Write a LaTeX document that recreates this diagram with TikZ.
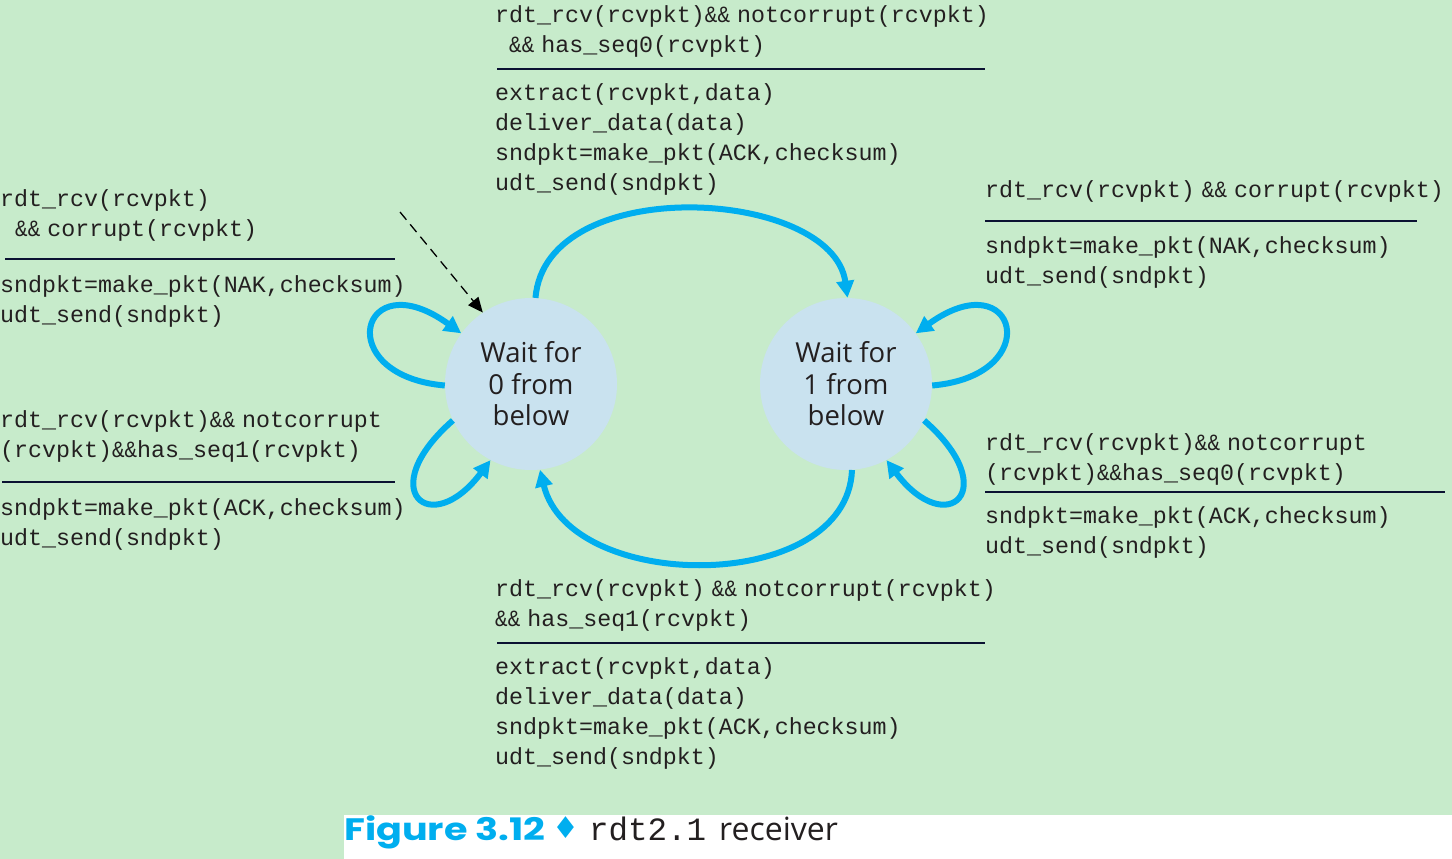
\documentclass[tikz,border=0pt]{standalone}
\usepackage{fontspec}
\usepackage{graphicx}
\usetikzlibrary{arrows.meta}
\newfontfamily\codefont{Liberation Mono}
\newfontfamily\statefont{Open Sans}
\newfontfamily\capfont{Poppins}
\newfontfamily\symbfont{DejaVu Sans}
\definecolor{bggreen}{HTML}{C7EBCB}
\definecolor{statefill}{HTML}{C9E2EF}
\definecolor{flowblue}{HTML}{00AEEF}
\definecolor{ink}{HTML}{231F20}
\definecolor{rulecol}{HTML}{0B1232}
\newcommand{\myand}{\scalebox{0.9}[1]{\&\&}}
\newcommand{\mygap}{\hspace{7pt}}
\tikzset{
  code/.style={anchor=base west, inner sep=0pt, text=ink, font=\codefont\fontsize{23.3}{30}\selectfont},
  state/.style={circle, fill=statefill, minimum size=172pt, inner sep=0pt, align=center, text=ink,
    font=\statefont\fontsize{27.5}{31.5}\selectfont},
  flow/.style={draw=flowblue, line width=6pt, -{Triangle[length=17pt,width=17pt]}},
  initarrow/.style={draw=black, line width=1.3pt, dash pattern=on 10pt off 6pt, -{Triangle[length=15pt,width=13pt]}},
  sep/.style={draw=rulecol, line width=1.5pt}
}
\begin{document}
\begin{tikzpicture}[x=1pt,y=-1pt]
\useasboundingbox (0,0) rectangle (1452,859);
\fill[bggreen] (0,0) rectangle (1452,859);
\fill[white] (344,815) rectangle (1452,859);

% states
\node[state] (c1) at (531,384) {Wait for\\0 from\\below};
\node[state] (c2) at (846,384) {Wait for\\1 from\\below};

% transitions
\draw[flow] (c1.87) .. controls +(10,-126) and +(-15,-110) .. (c2.89);
\draw[flow] (c2.274) .. controls +(-5,125) and +(30,124) .. (c1.276);
\draw[flow] (c1.181) .. controls +(-115,-10) and +(-101,-73) .. (c1.144);
\draw[flow] (c1.205) .. controls +(-80,70) and +(-60,80) .. (c1.242);
\draw[flow] (c2.-1) .. controls +(115,-10) and +(101,-73) .. (c2.36);
\draw[flow] (c2.335) .. controls +(80,70) and +(60,80) .. (c2.298);

\coordinate (init) at (400,212);
\draw[initarrow] (init) -- (c1.124);

% top label
\node[code] (t1) at (495,23) {rdt\_rcv(rcvpkt)\myand\mygap notcorrupt(rcvpkt)};
\node[code] (t2) at (509,53) {\myand\mygap has\_seq0(rcvpkt)};
\coordinate (t3l) at (497,69); \coordinate (t3r) at (985,69);
\draw[sep] (t3l) -- (t3r);
\node[code] (t3) at (495,100) {extract(rcvpkt,data)};
\node[code] (t4) at (495,130) {deliver\_data(data)};
\node[code] (t5) at (495,160) {sndpkt=make\_pkt(ACK,checksum)};
\node[code] (t6) at (495,190) {udt\_send(sndpkt)};

% left top label
\node[code] (l1) at (0,206) {rdt\_rcv(rcvpkt)};
\node[code] (l2) at (15,236) {\myand\mygap corrupt(rcvpkt)};
\coordinate (l3l) at (5,259); \coordinate (l3r) at (395,259);
\draw[sep] (l3l) -- (l3r);
\node[code] (l3) at (0,292) {sndpkt=make\_pkt(NAK,checksum)};
\node[code] (l4) at (0,322) {udt\_send(sndpkt)};

% left bottom label
\node[code] (m1) at (0,427) {rdt\_rcv(rcvpkt)\myand\mygap notcorrupt};
\node[code] (m2) at (0,457) {(rcvpkt)\myand has\_seq1(rcvpkt)};
\coordinate (m3l) at (2,482); \coordinate (m3r) at (395,482);
\draw[sep] (m3l) -- (m3r);
\node[code] (m3) at (0,515) {sndpkt=make\_pkt(ACK,checksum)};
\node[code] (m4) at (0,545) {udt\_send(sndpkt)};

% right top label
\node[code] (r1) at (985,197) {rdt\_rcv(rcvpkt)\mygap\myand\mygap corrupt(rcvpkt)};
\coordinate (r2l) at (985,221); \coordinate (r2r) at (1417,221);
\draw[sep] (r2l) -- (r2r);
\node[code] (r2) at (985,253) {sndpkt=make\_pkt(NAK,checksum)};
\node[code] (r3) at (985,283) {udt\_send(sndpkt)};

% right bottom label
\node[code] (s1) at (985,450) {rdt\_rcv(rcvpkt)\myand\mygap notcorrupt};
\node[code] (s2) at (985,480) {(rcvpkt)\myand has\_seq0(rcvpkt)};
\coordinate (s3l) at (985,492); \coordinate (s3r) at (1445,492);
\draw[sep] (s3l) -- (s3r);
\node[code] (s3) at (985,523) {sndpkt=make\_pkt(ACK,checksum)};
\node[code] (s4) at (985,553) {udt\_send(sndpkt)};

% bottom label
\node[code] (b1) at (495,596) {rdt\_rcv(rcvpkt)\mygap\myand\mygap notcorrupt(rcvpkt)};
\node[code] (b2) at (495,626) {\myand\mygap has\_seq1(rcvpkt)};
\coordinate (b3l) at (497,643); \coordinate (b3r) at (985,643);
\draw[sep] (b3l) -- (b3r);
\node[code] (b3) at (495,674) {extract(rcvpkt,data)};
\node[code] (b4) at (495,704) {deliver\_data(data)};
\node[code] (b5) at (495,734) {sndpkt=make\_pkt(ACK,checksum)};
\node[code] (b6) at (495,764) {udt\_send(sndpkt)};

% caption
\node[anchor=base west, inner sep=0pt, text=flowblue, font=\capfont\bfseries\fontsize{31}{31}\selectfont] (cap) at (344,840) {\scalebox{1.23}[1]{Figure 3.12}};
\node[anchor=base, inner sep=0pt, text=flowblue, font=\symbfont\fontsize{30}{30}\selectfont] (dia) at (566,838) {♦};
\node[anchor=base west, inner sep=0pt, text=ink, font=\codefont\fontsize{32.5}{32}\selectfont] (capcode) at (589,840) {rdt2.1};
\node[anchor=base west, inner sep=0pt, text=ink, font=\statefont\fontsize{32}{32}\selectfont] (captext) at (719,840) {receiver};
\end{tikzpicture}
\end{document}
